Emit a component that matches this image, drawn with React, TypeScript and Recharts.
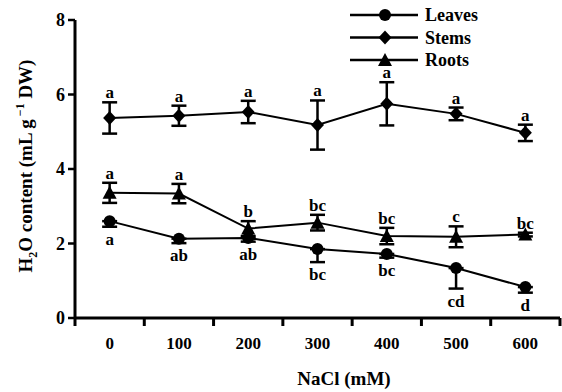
import { LineChart, Line, XAxis, YAxis, ErrorBar, LabelList } from "recharts";

// NaCl treatments (mM)
const nacl = [0, 100, 200, 300, 400, 500, 600];

// H2O content, mL g-1 DW
const leaves = [2.6, 2.13, 2.15, 1.85, 1.72, 1.34, 0.83];
const leavesErr = [0.15, 0.12, 0.1, 0.35, 0.1, 0.55, 0.15];
const stems = [5.37, 5.43, 5.53, 5.18, 5.75, 5.48, 4.97];
const stemsErr = [0.42, 0.27, 0.3, 0.66, 0.58, 0.17, 0.22];
const roots = [3.36, 3.34, 2.4, 2.56, 2.2, 2.18, 2.24];
const rootsErr = [0.27, 0.26, 0.2, 0.21, 0.22, 0.28, 0.05];

// significance letters
const leavesSig = ["a", "ab", "ab", "bc", "bc", "cd", "d"];
const stemsSig = ["a", "a", "a", "a", "a", "a", "a"];
const rootsSig = ["a", "a", "b", "bc", "bc", "c", "bc"];

const yTicks = [0, 2, 4, 6, 8];

const data = nacl.map((n, i) => ({
  nacl: n,
  leaf: leaves[i],
  leafErr: [leavesErr[i], 0],
  leafLow: leaves[i] - leavesErr[i],
  stem: stems[i],
  stemErr: stemsErr[i],
  stemHigh: stems[i] + stemsErr[i],
  root: roots[i],
  rootErr: rootsErr[i],
  rootHigh: roots[i] + rootsErr[i],
}));

const font = { fontFamily: "Liberation Serif", fontWeight: "bold" } as const;

const Circle = ({ cx, cy, r = 6 }: any) =>
  cx == null ? null : <circle cx={cx} cy={cy} r={r} fill="#000" />;

const Diamond = ({ cx, cy, s = 6.5 }: any) =>
  cx == null ? null : (
    <path d={`M${cx},${cy - s - 0.5} L${cx + s},${cy} L${cx},${cy + s + 0.5} L${cx - s},${cy} Z`} fill="#000" />
  );

const Triangle = ({ cx, cy, s = 7 }: any) =>
  cx == null ? null : (
    <path d={`M${cx},${cy - s} L${cx + s},${cy + s - 1} L${cx - s},${cy + s - 1} Z`} fill="#000" />
  );

const dotOf = (Shape: any) => (p: any) => <Shape key={p.index} cx={p.cx} cy={p.cy} />;

// tick marks sit between the treatment labels
const XTick = (props: any) => {
  const { x, y, payload, index, visibleTicksCount } = props;
  const w = props.width ?? 485;
  const half = w / visibleTicksCount / 2;
  return (
    <g>
      {index === 0 && <line x1={x - half} x2={x - half} y1={y} y2={y + 8} stroke="#000" strokeWidth={3} />}
      <line x1={x + half} x2={x + half} y1={y} y2={y + 8} stroke="#000" strokeWidth={3} />
      <text x={x} y={y + 31} textAnchor="middle" style={{ ...font, fontSize: 17 }} fill="#000">
        {payload.value}
      </text>
    </g>
  );
};

const YTick = ({ x, y, payload }: any) => (
  <text x={x} y={y + 6} textAnchor="end" style={{ ...font, fontSize: 18 }} fill="#000">
    {payload.value}
  </text>
);

const sigLabel = (letters: string[], dy: number) => (p: any) => (
  <text key={p.index} x={p.x} y={p.y + dy} textAnchor="middle" style={{ ...font, fontSize: 17 }} fill="#000">
    {letters[p.index]}
  </text>
);

const legendItems = [
  { name: "Leaves", Shape: Circle },
  { name: "Stems", Shape: Diamond },
  { name: "Roots", Shape: Triangle },
];

export default function App() {
  return (
    <div style={{ position: "absolute", left: 0, top: 0, width: 562, height: 392, background: "#fff" }}>
      <LineChart width={562} height={392} data={data} margin={{ top: 20, right: 2, bottom: 0, left: 0 }}>
        <XAxis
          dataKey="nacl"
          type="number"
          domain={[-50, 650]}
          ticks={nacl}
          tickLine={false}
          tickSize={0}
          tickMargin={0}
          tick={<XTick />}
          axisLine={{ stroke: "#000", strokeWidth: 3 }}
          height={74}
          label={{
            content: () => (
              <text x={344} y={385} textAnchor="middle" style={{ ...font, fontSize: 19 }} fill="#000">
                NaCl (mM)
              </text>
            ),
          }}
        />
        <YAxis
          type="number"
          domain={[0, 8]}
          ticks={yTicks}
          width={75}
          tickSize={7}
          tickMargin={3}
          axisLine={{ stroke: "#000", strokeWidth: 3 }}
          tickLine={{ stroke: "#000", strokeWidth: 2.5 }}
          tick={<YTick />}
          label={{
            content: () => (
              <text transform="translate(32,166) rotate(-90)" textAnchor="middle" style={{ ...font, fontSize: 19 }} fill="#000">
                H<tspan style={{ fontSize: 12 }} dy={5}>2</tspan>
                <tspan dy={-5}>O content (mL g</tspan>
                <tspan style={{ fontSize: 12 }} dy={-8}> −1</tspan>
                <tspan dy={8}> DW)</tspan>
              </text>
            ),
          }}
        />
        <Line dataKey="stem" stroke="#000" strokeWidth={2} dot={dotOf(Diamond)} activeDot={false} isAnimationActive={false}>
          <ErrorBar dataKey="stemErr" direction="y" width={7.5} stroke="#000" strokeWidth={2.5} />
        </Line>
        <Line dataKey="root" stroke="#000" strokeWidth={2} dot={dotOf(Triangle)} activeDot={false} isAnimationActive={false}>
          <ErrorBar dataKey="rootErr" direction="y" width={7.5} stroke="#000" strokeWidth={2.5} />
        </Line>
        <Line dataKey="leaf" stroke="#000" strokeWidth={2} dot={dotOf(Circle)} activeDot={false} isAnimationActive={false}>
          <ErrorBar dataKey="leafErr" direction="y" width={7.5} stroke="#000" strokeWidth={2.5} />
        </Line>
        {/* letters placed at the error bar ends */}
        <Line dataKey="stemHigh" stroke="none" dot={false} activeDot={false} isAnimationActive={false}>
          <LabelList content={sigLabel(stemsSig, -4)} />
        </Line>
        <Line dataKey="rootHigh" stroke="none" dot={false} activeDot={false} isAnimationActive={false}>
          <LabelList content={sigLabel(rootsSig, -4)} />
        </Line>
        <Line dataKey="leafLow" stroke="none" dot={false} activeDot={false} isAnimationActive={false}>
          <LabelList content={sigLabel(leavesSig, 18)} />
        </Line>
      </LineChart>
      <svg width={200} height={75} style={{ position: "absolute", left: 345, top: 0 }}>
        {legendItems.map((it, i) => {
          const y = 15 + i * 22.5;
          return (
            <g key={it.name}>
              <line x1={5} x2={73} y1={y} y2={y} stroke="#000" strokeWidth={2.5} />
              <it.Shape cx={40} cy={y} />
              <text x={80} y={y + 6} style={{ ...font, fontSize: 18 }} fill="#000">
                {it.name}
              </text>
            </g>
          );
        })}
      </svg>
    </div>
  );
}
